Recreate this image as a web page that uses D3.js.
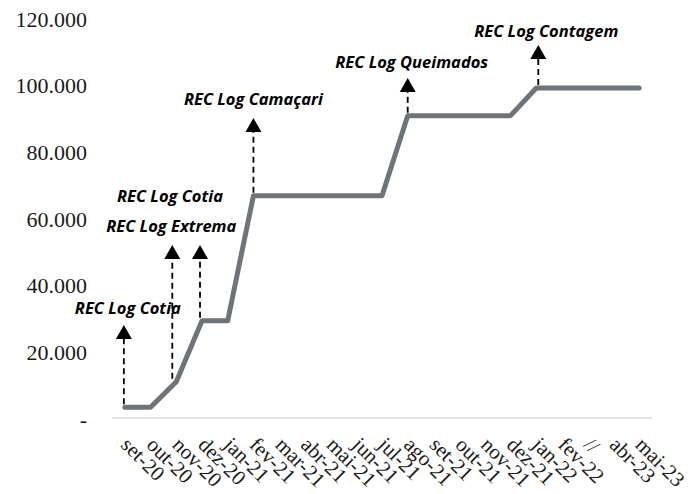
<!DOCTYPE html>
<html>
<head>
<meta charset="utf-8">
<script src="https://cdn.jsdelivr.net/npm/d3@7"></script>
<style>
  body { margin: 0; background: #fff; }
  svg { display: block; }
</style>
</head>
<body>
<div id="chart"></div>
<script>
// categories on the x axis ("//" marks the gap in the timeline)
const months = ["set-20", "out-20", "nov-20", "dez-20", "jan-21", "fev-21", "mar-21", "abr-21",
  "mai-21", "jun-21", "jul-21", "ago-21", "set-21", "out-21", "nov-21", "dez-21", "jan-22",
  "fev-22", "//", "abr-23", "mai-23"];

// cumulative value per month
const totals = [3500, 3500, 11200, 29500, 29500, 67000, 67000, 67000, 67000, 67000, 67000,
  91000, 91000, 91000, 91000, 91000, 99300, 99300, 99300, 99300, 99300];

// y axis ticks
const yTicks = [0, 20000, 40000, 60000, 80000, 100000, 120000];

// annotations: where the arrow stands, the arrow tip value and the label value
const noteLabels = ["REC Log Cotia", "REC Log Extrema", "REC Log Cotia", "REC Log Camaçari",
  "REC Log Queimados", "REC Log Contagem"];
const noteMonths = ["set-20", "nov-20", "dez-20", "fev-21", "ago-21", "jan-22"];
const noteTips = [28200, 52200, 52200, 90300, 102300, 112200];
const noteTextValues = [33400, 58200, 67200, 96300, 107200, 116700];

const W = 693, H = 494;
const svg = d3.select("#chart").append("svg")
  .attr("width", W)
  .attr("height", H);

const x = d3.scaleBand()
  .domain(months)
  .range([112, 652])
  .padding(0);

const y = d3.scaleLinear()
  .domain([0, 120000])
  .range([419, 19]);

const cx = function(m) { return x(m) + x.bandwidth() / 2; };

// number format like "120.000", zero shown as "-"
function fmt(v) {
  if (v === 0) return "-";
  return d3.format(",")(v).replace(/,/g, ".");
}

// y labels
svg.append("g")
  .selectAll("text")
  .data(yTicks)
  .enter().append("text")
    .attr("x", 87)
    .attr("y", function(d) { return y(d); })
    .attr("text-anchor", "end")
    .attr("dominant-baseline", "central")
    .style("font-family", "'Liberation Serif', serif")
    .style("font-size", "22px")
    .style("fill", "#1a1a1a")
    .text(fmt);

// baseline
svg.append("line")
  .attr("x1", x.range()[0])
  .attr("x2", x.range()[1])
  .attr("y1", y(0) - 1)
  .attr("y2", y(0) - 1)
  .attr("stroke", "#d9d9d9")
  .attr("stroke-width", 1.5);

// x labels, rotated
svg.append("g")
  .selectAll("text")
  .data(months)
  .enter().append("text")
    .attr("transform", function(d) { return "translate(" + (cx(d) - 5) + "," + (y(0) + 27) + ") rotate(45)"; })
    .attr("text-anchor", "start")
    .style("font-family", "'Liberation Serif', serif")
    .style("font-size", "21px")
    .style("fill", "#1a1a1a")
    .text(function(d) { return d; });

// the series line
const line = d3.line()
  .x(function(d, i) { return cx(months[i]); })
  .y(function(d) { return y(d); });

svg.append("path")
  .datum(totals)
  .attr("d", line)
  .attr("fill", "none")
  .attr("stroke", "#6f7478")
  .attr("stroke-width", 5)
  .attr("stroke-linejoin", "round")
  .attr("stroke-linecap", "round");

// annotations
const arrowShift = [-1, -4, -2, 0, 0, 2];
const labelShift = [3, -5, -32, 0, 4, 10];
const notes = svg.append("g");
noteLabels.forEach(function(label, i) {
  const m = noteMonths[i];
  const px = cx(m) + arrowShift[i];
  const base = y(totals[months.indexOf(m)]) - 3;
  const tip = y(noteTips[i]);
  const arrowH = 14, arrowW = 8;

  notes.append("line")
    .attr("x1", px).attr("x2", px)
    .attr("y1", base).attr("y2", tip + arrowH)
    .attr("stroke", "#000")
    .attr("stroke-width", 1.8)
    .attr("stroke-dasharray", "6,4");

  notes.append("path")
    .attr("d", "M" + px + "," + tip + "L" + (px + arrowW) + "," + (tip + arrowH) + "L" + (px - arrowW) + "," + (tip + arrowH) + "Z")
    .attr("fill", "#000");

  notes.append("text")
    .attr("x", cx(m) + labelShift[i])
    .attr("y", y(noteTextValues[i]))
    .attr("text-anchor", "middle")
    .attr("dominant-baseline", "central")
    .style("font-family", "'Open Sans', sans-serif")
    .style("font-size", "16.5px")
    .style("font-weight", "bold")
    .style("font-style", "italic")
    .style("fill", "#000")
    .text(label);
});
</script>
</body>
</html>
